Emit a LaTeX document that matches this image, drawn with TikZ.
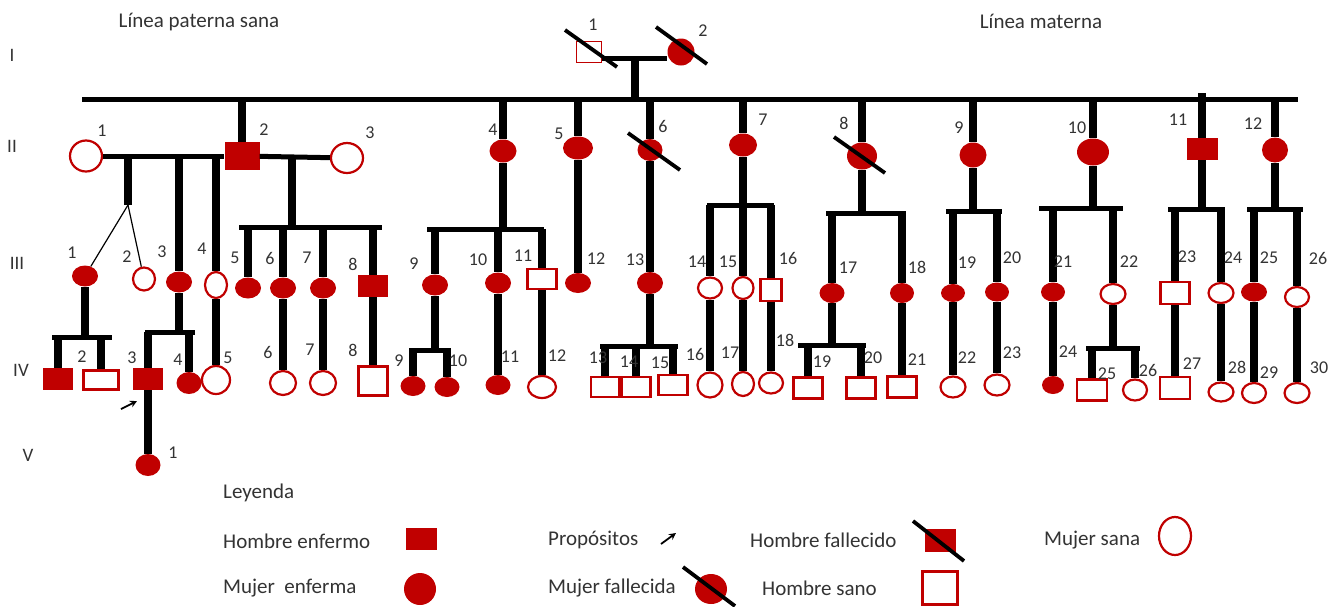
\documentclass[tikz,border=0pt]{standalone}
\usepackage{fontspec}
\setmainfont{Carlito}
\usetikzlibrary{shapes.geometric,arrows.meta}
\definecolor{rojo}{HTML}{C00000}
\definecolor{gris}{HTML}{333333}

\tikzstyle{hS}=[rectangle,draw=rojo,line width=2.2pt,fill=white,minimum width=28pt,minimum height=20pt,inner sep=0pt]
\tikzstyle{hE}=[rectangle,fill=rojo,minimum width=30pt,minimum height=22pt,inner sep=0pt]
\tikzstyle{mS}=[ellipse,draw=rojo,line width=2.2pt,fill=white,minimum width=24pt,minimum height=21pt,inner sep=0pt]
\tikzstyle{mE}=[ellipse,fill=rojo,minimum width=25pt,minimum height=20pt,inner sep=0pt]
\tikzstyle{lV}=[line width=8pt]
\tikzstyle{lH}=[line width=5pt]
\tikzstyle{lT}=[line width=1.2pt]
\tikzstyle{lX}=[line width=3.8pt]
\tikzstyle{nL}=[inner sep=0pt,text=gris,font=\fontsize{18}{18}\selectfont]
\tikzstyle{rL}=[inner sep=0pt,text=gris,font=\fontsize{19}{19}\selectfont]
\tikzstyle{gL}=[inner sep=0pt,anchor=west,text=gris,font=\fontsize{21}{21}\selectfont]

\begin{document}
\begin{tikzpicture}[x=1pt,y=-1pt]
\useasboundingbox (0,0) rectangle (1342,606);
% titulos y generaciones
\node[gL,anchor=center] (tPat) at (199,22) {Línea paterna sana};
\node[gL,anchor=center] (tMat) at (1041,21) {Línea materna};
\node[rL] (gI) at (12,55) {I};
\node[rL] (gII) at (12,146) {II};
\node[rL] (gIII) at (17,263) {III};
\node[rL] (gIV) at (21,370) {IV};
\node[rL] (gV) at (28,455) {V};

% generacion I
\draw (589,52) node[hS,minimum width=25pt,minimum height=21pt,line width=1.5pt] (i1) {};
\draw (681,52) node[mE,minimum width=27pt,minimum height=27pt] (i2) {};
\coordinate (mI) at (635,58);
\coordinate (tA) at (82,99);
\coordinate (tB) at (1298,99);

% generacion II
\draw (86,156) node[mS,minimum width=32pt,minimum height=31pt] (ii1) {};
\draw (242,156) node[hE,minimum width=35pt,minimum height=28pt] (ii2) {};
\draw (347,158) node[mS,minimum width=32pt,minimum height=30pt] (ii3) {};
\draw (503,151) node[mE,minimum width=27pt,minimum height=23pt] (ii4) {};
\draw (578,148) node[mE,minimum width=30pt,minimum height=23pt] (ii5) {};
\draw (650,150) node[mE,minimum width=25pt,minimum height=22pt] (ii6) {};
\draw (743,145) node[mE,minimum width=28pt,minimum height=23pt] (ii7) {};
\draw (862,156) node[mE,minimum width=30pt,minimum height=27pt] (ii8) {};
\draw (973,155) node[mE,minimum width=27pt,minimum height=25pt] (ii9) {};
\draw (1093,152) node[mE,minimum width=32pt,minimum height=27pt] (ii10) {};
\draw (1202,149) node[hE,minimum width=31pt,minimum height=22pt] (ii11) {};
\draw (1275,150) node[mE,minimum width=26pt,minimum height=25pt] (ii12) {};

% generacion III
\draw (85,276) node[mE,minimum width=26pt,minimum height=21pt] (iii1) {};
\draw (144,279) node[mS,minimum width=22pt,minimum height=23pt] (iii2) {};
\draw (179,282) node[mE,minimum width=26pt,minimum height=21pt] (iii3) {};
\draw (216,285) node[mS,minimum width=22pt,minimum height=26pt] (iii4) {};
\draw (248,288) node[mE,minimum width=26pt,minimum height=21pt] (iii5) {};
\draw (283,288) node[mE,minimum width=26pt,minimum height=21pt] (iii6) {};
\draw (323,288) node[mE,minimum width=26pt,minimum height=21pt] (iii7) {};
\draw (373,286) node[hE] (iii8) {};
\draw (435,285) node[mE,minimum width=26pt,minimum height=21pt] (iii9) {};
\draw (498,283) node[mE,minimum width=26pt,minimum height=21pt] (iii10) {};
\draw (542,279) node[hS,minimum width=29pt] (iii11) {};
\draw (578,283) node[mE,minimum width=26pt] (iii12) {};
\draw (650,283) node[mE,minimum width=26pt,minimum height=22pt] (iii13) {};
\draw (710,288) node[mS] (iii14) {};
\draw (743,288) node[mS,minimum width=21pt,minimum height=22pt] (iii15) {};
\draw (771,290) node[hS,minimum width=21pt,minimum height=22pt] (iii16) {};
\draw (832,293) node[mE] (iii17) {};
\draw (902,293) node[mE,minimum width=24pt] (iii18) {};
\draw (953,293) node[mE,minimum width=24pt,minimum height=18pt] (iii19) {};
\draw (997,292) node[mE,minimum width=24pt,minimum height=19pt] (iii20) {};
\draw (1053,292) node[mE,minimum width=24pt,minimum height=19pt] (iii21) {};
\draw (1113,294) node[mS,minimum width=25pt,minimum height=20pt] (iii22) {};
\draw (1175,293) node[hS,minimum width=29pt,minimum height=22pt] (iii23) {};
\draw (1221,293) node[mS,minimum width=25pt,minimum height=20pt] (iii24) {};
\draw (1254,292) node[mE,minimum width=26pt,minimum height=19pt] (iii25) {};
\draw (1297,297) node[mS,minimum height=20pt] (iii26) {};

% generacion IV
\draw (58,379) node[hE] (iv1) {};
\draw (101,380) node[hS,minimum width=35pt,minimum height=19pt] (iv2) {};
\draw (148,379) node[hE] (iv3) {};
\draw (189,383) node[mE,minimum height=22pt] (iv4) {};
\draw (216,380) node[mS,minimum width=28pt,minimum height=28pt] (iv5) {};
\draw (283,383) node[mS,minimum width=26pt,minimum height=24pt] (iv6) {};
\draw (323,383) node[mS,minimum width=26pt,minimum height=24pt] (iv7) {};
\draw (373,381) node[hS,minimum width=29pt,minimum height=29pt] (iv8) {};
\draw (413,386) node[mE] (iv9) {};
\draw (447,387) node[mE] (iv10) {};
\draw (498,385) node[mE] (iv11) {};
\draw (542,387) node[mS,minimum width=28pt,minimum height=22pt] (iv12) {};
\draw (605,387) node[hS] (iv13) {};
\draw (636,387) node[hS,minimum width=29pt] (iv14) {};
\draw (673,385) node[hS,minimum width=29pt] (iv15) {};
\draw (710,385) node[mS,minimum width=25pt,minimum height=25pt] (iv16) {};
\draw (743,384) node[mS,minimum width=22pt,minimum height=24pt] (iv17) {};
\draw (771,383) node[mS] (iv18) {};
\draw (808,388) node[hS,minimum width=29pt,minimum height=21pt] (iv19) {};
\draw (861,388) node[hS,minimum width=29pt,minimum height=21pt] (iv20) {};
\draw (902,387) node[hS,minimum width=29pt,minimum height=21pt] (iv21) {};
\draw (953,387) node[mS,minimum width=25pt] (iv22) {};
\draw (997,385) node[mS,minimum width=25pt] (iv23) {};
\draw (1053,385) node[mE,minimum width=22pt,minimum height=18pt] (iv24) {};
\draw (1092,390) node[hS,minimum width=30pt,minimum height=21pt] (iv25) {};
\draw (1135,390) node[mS] (iv26) {};
\draw (1175,388) node[hS,minimum width=30pt,minimum height=22pt] (iv27) {};
\draw (1221,392) node[mS,minimum width=25pt,minimum height=19pt] (iv28) {};
\draw (1254,393) node[mS,minimum height=20pt] (iv29) {};
\draw (1297,393) node[mS,minimum width=25pt,minimum height=20pt] (iv30) {};

% generacion V
\draw (148,465) node[mE,minimum height=22pt] (v1) {};

% hermandades
\coordinate (tw) at (128,205);
\coordinate (m23) at (292,158);
\coordinate (t11) at (1202,93);
\coordinate (s23a) at (239,227);   \coordinate (s23b) at (382,227);
\coordinate (s4a) at (427,229);    \coordinate (s4b) at (544,229);
\coordinate (s7a) at (707,205);    \coordinate (s7b) at (774,205);
\coordinate (s8a) at (826,213);    \coordinate (s8b) at (906,213);
\coordinate (s9a) at (946,211);    \coordinate (s9b) at (1002,211);
\coordinate (s10a) at (1039,208);  \coordinate (s10b) at (1123,208);
\coordinate (s11a) at (1168,209);  \coordinate (s11b) at (1225,209);
\coordinate (s12a) at (1247,209);  \coordinate (s12b) at (1303,209);
\coordinate (r1a) at (52,337);     \coordinate (r1b) at (112,337);
\coordinate (r3a) at (145,332);    \coordinate (r3b) at (195,332);
\coordinate (r9a) at (409,350);    \coordinate (r9b) at (451,350);
\coordinate (r13a) at (600,346);   \coordinate (r13b) at (678,346);
\coordinate (r17a) at (798,345);   \coordinate (r17b) at (866,345);
\coordinate (r22a) at (1086,348);  \coordinate (r22b) at (1140,348);
\coordinate (aP1) at (121,409);    \coordinate (aP2) at (137,401);

\path
    (i1.east|-mI) edge[lH] (i2.west|-mI)
    (mI) edge[lV] (mI|-tA)
    (tA) edge[lH] (tB)
    (ii2|-tA) edge[lV] (ii2)
    (ii4|-tA) edge[lV] (ii4)
    (ii5|-tA) edge[lV] (ii5)
    (ii6|-tA) edge[lV] (ii6)
    (ii7|-tA) edge[lV] (ii7)
    (ii8|-tA) edge[lV] (ii8)
    (ii9|-tA) edge[lV] (ii9)
    (ii10|-tA) edge[lV] (ii10)
    (t11) edge[lV] (ii11)
    (ii12|-tA) edge[lV] (ii12)
    % rama paterna
    (ii1) edge[lH] (ii2)
    (ii2) edge[lH] (ii3)
    (tw|-ii1) edge[lV] (tw)
    (tw) edge[lT] (iii1)
    (tw) edge[lT] (iii2)
    (iii3|-ii1) edge[lV] (iii3)
    (iii4|-ii1) edge[lV] (iii4)
    (iii4) edge[lV] (iv5)
    (m23) edge[lV] (m23|-s23a)
    (s23a) edge[lH] (s23b)
    (iii5|-s23a) edge[lV] (iii5)
    (iii6|-s23a) edge[lV] (iii6)
    (iii7|-s23a) edge[lV] (iii7)
    (iii8|-s23a) edge[lV] (iii8)
    (iii1) edge[lV] (iii1|-r1a)
    (r1a) edge[lH] (r1b)
    (iv1|-r1a) edge[lV] (iv1)
    (iv2|-r1a) edge[lV] (iv2)
    (iii3) edge[lV] (iii3|-r3a)
    (r3a) edge[lH] (r3b)
    (iv3|-r3a) edge[lV] (iv3)
    (iv4|-r3a) edge[lV] (iv4)
    (iv3) edge[lV] (v1)
    (iii6) edge[lV] (iv6)
    (iii7) edge[lV] (iv7)
    (iii8) edge[lV] (iv8)
    % rama materna
    (ii4) edge[lV] (ii4|-s4a)
    (s4a) edge[lH] (s4b)
    (iii9|-s4a) edge[lV] (iii9)
    (iii10|-s4a) edge[lV] (iii10)
    (iii11|-s4a) edge[lV] (iii11)
    (iii9) edge[lV] (iii9|-r9a)
    (r9a) edge[lH] (r9b)
    (iv9|-r9a) edge[lV] (iv9)
    (iv10|-r9a) edge[lV] (iv10)
    (iii10) edge[lV] (iv11)
    (iii11) edge[lV] (iv12)
    (ii5) edge[lV] (iii12)
    (ii6) edge[lV] (iii13)
    (iii13) edge[lV] (iii13|-r13a)
    (r13a) edge[lH] (r13b)
    (iv13|-r13a) edge[lV] (iv13)
    (iv14|-r13a) edge[lV] (iv14)
    (iv15|-r13a) edge[lV] (iv15)
    (ii7) edge[lV] (ii7|-s7a)
    (s7a) edge[lH] (s7b)
    (iii14|-s7a) edge[lV] (iii14)
    (iii15|-s7a) edge[lV] (iii15)
    (iii16|-s7a) edge[lV] (iii16)
    (iii14) edge[lV] (iv16)
    (iii15) edge[lV] (iv17)
    (iii16) edge[lV] (iv18)
    (ii8) edge[lV] (ii8|-s8a)
    (s8a) edge[lH] (s8b)
    (iii17|-s8a) edge[lV] (iii17)
    (iii18|-s8a) edge[lV] (iii18)
    (iii17) edge[lV] (iii17|-r17a)
    (r17a) edge[lH] (r17b)
    (iv19|-r17a) edge[lV] (iv19)
    (iv20|-r17a) edge[lV] (iv20)
    (iii18) edge[lV] (iv21)
    (ii9) edge[lV] (ii9|-s9a)
    (s9a) edge[lH] (s9b)
    (iii19|-s9a) edge[lV] (iii19)
    (iii20|-s9a) edge[lV] (iii20)
    (iii19) edge[lV] (iv22)
    (iii20) edge[lV] (iv23)
    (ii10) edge[lV] (ii10|-s10a)
    (s10a) edge[lH] (s10b)
    (iii21|-s10a) edge[lV] (iii21)
    (iii22|-s10a) edge[lV] (iii22)
    (iii21) edge[lV] (iv24)
    (iii22) edge[lV] (iii22|-r22a)
    (r22a) edge[lH] (r22b)
    (iv25|-r22a) edge[lV] (iv25)
    (iv26|-r22a) edge[lV] (iv26)
    (ii11) edge[lV] (ii11|-s11a)
    (s11a) edge[lH] (s11b)
    (iii23|-s11a) edge[lV] (iii23)
    (iii24|-s11a) edge[lV] (iii24)
    (iii23) edge[lV] (iv27)
    (iii24) edge[lV] (iv28)
    (ii12) edge[lV] (ii12|-s12a)
    (s12a) edge[lH] (s12b)
    (iii25|-s12a) edge[lV] (iii25)
    (iii26|-s12a) edge[lV] (iii26)
    (iii25) edge[lV] (iv29)
    (iii26) edge[lV] (iv30)
    % proposito
    (aP1) edge[-{Stealth[length=7pt,width=7pt]},line width=1.8pt] (aP2)
;

% fallecidos
\draw[lX] ([shift={(-24,-22)}]i1.center) -- ([shift={(28,15)}]i1.center);
\draw[lX] ([shift={(-25,-25)}]i2.center) -- ([shift={(26,12)}]i2.center);
\draw[lX] ([shift={(-22,-17)}]ii6.center) -- ([shift={(30,20)}]ii6.center);
\draw[lX] ([shift={(-28,-19)}]ii8.center) -- ([shift={(23,17)}]ii8.center);

% numeros
\foreach \n/\x/\y in {1/593/25, 2/703/31}
    \node[nL] (lI\n) at (\x,\y) {\n};
\foreach \n/\x/\y in {1/102/131, 2/264/130, 3/370/133, 4/493/130, 5/559/134, 6/663/126,
    7/763/120, 8/844/123, 9/959/128, 10/1077/128, 11/1178/120, 12/1253/124}
    \node[nL] (lII\n) at (\x,\y) {\n};
\foreach \n/\x/\y in {1/72/253, 2/127/257, 3/162/252, 4/202/249, 5/235/258, 6/270/258,
    7/307/258, 8/353/264, 9/414/264, 10/478/260, 11/523/256, 12/596/259, 13/635/260,
    14/697/262, 15/728/262, 16/788/258, 17/848/268, 18/917/267, 19/967/263, 20/1012/258,
    21/1063/262, 22/1129/262, 23/1187/257, 24/1233/258, 25/1269/258, 26/1318/258}
    \node[nL] (lIII\n) at (\x,\y) {\n};
\foreach \n/\x/\y in {2/82/357, 3/132/358, 4/178/360, 5/228/358, 6/268/352, 7/310/350,
    8/353/350, 9/399/361, 10/458/361, 11/510/357, 12/557/356, 13/598/358, 14/629/362,
    15/660/363, 16/695/354, 17/730/353, 18/785/340, 19/822/362, 20/873/358, 21/917/360,
    22/967/358, 23/1012/353, 24/1068/352, 25/1107/374, 26/1148/370, 27/1192/364,
    28/1237/367, 29/1269/373, 30/1319/368}
    \node[nL] (lIV\n) at (\x,\y) {\n};
\node[nL] (lV1) at (173,453) {1};

% leyenda
\node[gL] (ley) at (223,493) {Leyenda};
\node[gL] (tHE) at (223,541) {Hombre enfermo};
\draw (421,539) node[hE,minimum width=31pt,minimum height=22pt] (lHE) {};
\node[gL] (tME) at (223,588) {Mujer\ \ enferma};
\draw (420,589) node[mE,minimum width=32pt,minimum height=32pt] (lME) {};
\node[gL] (tPR) at (548,540) {Propósitos};
\coordinate (aL1) at (661,544);
\coordinate (aL2) at (676,533);
\path (aL1) edge[-{Stealth[length=7pt,width=7pt]},line width=1.8pt] (aL2);
\node[gL] (tMF) at (548,588) {Mujer fallecida};
\draw (711,589) node[mE,minimum width=32pt,minimum height=30pt] (lMF) {};
\draw[lX] ([shift={(-28,-22)}]lMF.center) -- ([shift={(24,17)}]lMF.center);
\node[gL] (tHF) at (750,540) {Hombre fallecido};
\draw (940,540) node[hE,minimum width=31pt,minimum height=23pt] (lHF) {};
\draw[lX] ([shift={(-27,-19)}]lHF.center) -- ([shift={(24,21)}]lHF.center);
\node[gL] (tHS) at (762,588) {Hombre sano};
\draw (940,588) node[hS,minimum width=35pt,minimum height=33pt] (lHS) {};
\node[gL] (tMS) at (1044,540) {Mujer sana};
\draw (1175,536) node[mS,minimum width=32pt,minimum height=38pt] (lMS) {};
\end{tikzpicture}
\end{document}
